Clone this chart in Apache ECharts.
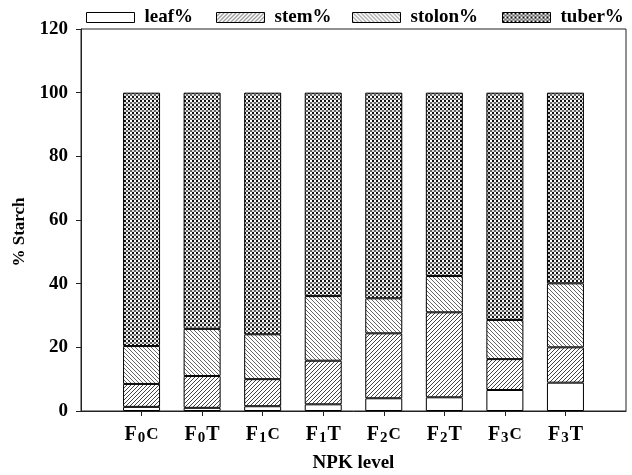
<!DOCTYPE html>
<html><head><meta charset="utf-8">
<script src="https://cdn.jsdelivr.net/npm/echarts@6/dist/echarts.min.js"></script>
<style>html,body{margin:0;padding:0;background:#fff}#c{width:632px;height:475px}</style>
</head><body><div id="c"></div>
<script>
// categories (padded with empty slots at both ends)
var categories = ['', 'F0C', 'F0T', 'F1C', 'F1T', 'F2C', 'F2T', 'F3C', 'F3T', ''];
var leaf   = [null, 1.3, 1.0, 1.5, 2.1, 4.0, 4.3, 6.6, 8.9, null];
var stem   = [null, 7.2, 10.0, 8.5, 13.7, 20.4, 26.7, 9.7, 11.1, null];
var stolon = [null, 11.9, 14.8, 14.1, 20.3, 11.0, 11.4, 12.3, 20.1, null];
var tuber  = [null, 79.6, 74.2, 75.9, 63.9, 64.6, 57.6, 71.4, 59.9, null];
var seriesNames = ['leaf%', 'stem%', 'stolon%', 'tuber%'];
var yTicks = [0, 20, 40, 60, 80, 100, 120];

function tile(size, draw) {
  var c = document.createElement('canvas');
  c.width = size; c.height = size;
  var g = c.getContext('2d');
  g.fillStyle = '#fff'; g.fillRect(0, 0, size, size);
  draw(g, size);
  return c;
}
var stemTile = tile(4, function (g, s) {
  g.strokeStyle = '#444'; g.lineWidth = 1;
  g.beginPath();
  g.moveTo(-1, s + 1); g.lineTo(s + 1, -1);
  g.moveTo(-1, 1); g.lineTo(1, -1);
  g.moveTo(s - 1, s + 1); g.lineTo(s + 1, s - 1);
  g.stroke();
});
var stolonTile = tile(4, function (g, s) {
  g.strokeStyle = '#666'; g.lineWidth = 1;
  g.beginPath();
  g.moveTo(-1, -1); g.lineTo(s + 1, s + 1);
  g.moveTo(s - 1, -1); g.lineTo(s + 1, 1);
  g.moveTo(-1, s - 1); g.lineTo(1, s + 1);
  g.stroke();
});
var tuberTile = tile(4, function (g, s) {
  g.fillStyle = '#d8d8d8'; g.fillRect(0, 0, 4, 4);
  g.fillStyle = '#111'; g.fillRect(0, 0, 2, 2);
  g.fillStyle = '#666'; g.fillRect(2, 2, 2, 2);
  g.fillStyle = '#fff'; g.fillRect(2, 0, 2, 2);
});
var fills = ['#ffffff',
  {image: stemTile, repeat: 'repeat'},
  {image: stolonTile, repeat: 'repeat'},
  {image: tuberTile, repeat: 'repeat'}];
var datas = [leaf, stem, stolon, tuber];

var chart = echarts.init(document.getElementById('c'), null, {renderer: 'canvas'});
var font = '"Liberation Serif", "Times New Roman", serif';
var legendLefts = [86, 216, 352, 502];
var legends = seriesNames.map(function (n, i) {
  return {
    data: [n], left: legendLefts[i], top: 8, padding: 0, itemWidth: 48, itemHeight: 10,
    icon: 'rect',
    itemStyle: {borderColor: '#000', borderWidth: 1},
    textStyle: {fontFamily: font, fontWeight: 'bold', fontSize: 19, color: '#000', padding: [0, 0, 0, 5]}
  };
});

var series = seriesNames.map(function (n, i) {
  return {
    name: n, type: 'bar', stack: 'total', barWidth: 37,
    data: datas[i],
    itemStyle: {color: fills[i], borderColor: '#000', borderWidth: 1},
    emphasis: {disabled: true}, animation: false
  };
});

chart.setOption({
  animation: false,
  backgroundColor: '#fff',
  legend: legends,
  grid: {left: 81, right: 6, top: 29, bottom: 64, outerBoundsMode: 'none', containLabel: false,
    show: true, borderColor: '#222', borderWidth: 1, backgroundColor: 'transparent'},
  xAxis: {
    type: 'category', data: categories, boundaryGap: false,
    axisLine: {lineStyle: {color: '#222', width: 1}},
    axisTick: {length: 5, lineStyle: {color: '#222'}, interval: function (idx, v) { return v !== ''; }},
    axisLabel: {
      margin: 13, interval: 0,
      formatter: function (v) {
        if (!v) return '';
        return '{a|F}{s|' + v.charAt(1) + '}{' + (v.charAt(2) === 'C' ? 'c' : 'a') + '|' + v.charAt(2) + '}';
      },
      rich: {
        a: {fontFamily: font, fontWeight: 'bold', fontSize: 20, color: '#000', lineHeight: 22, verticalAlign: 'middle'},
        c: {fontFamily: font, fontWeight: 'bold', fontSize: 17, color: '#000', lineHeight: 22, verticalAlign: 'middle'},
        s: {fontFamily: font, fontWeight: 'bold', fontSize: 15, color: '#000', lineHeight: 14, verticalAlign: 'bottom', padding: [6, 1, 0, 1]}
      }
    },
    name: 'NPK level', nameLocation: 'middle', nameGap: 43,
    nameTextStyle: {fontFamily: font, fontWeight: 'bold', fontSize: 19, color: '#000'}
  },
  yAxis: {
    type: 'value', min: 0, max: 120, interval: 20,
    splitLine: {show: false},
    axisLine: {show: true, lineStyle: {color: '#222', width: 1}},
    axisTick: {show: true, length: 5, lineStyle: {color: '#222'}},
    axisLabel: {margin: 13, fontFamily: font, fontWeight: 'bold', fontSize: 19, color: '#000',
      formatter: function (v) { return yTicks.indexOf(v) >= 0 ? String(v) : ''; }},
    name: '% Starch', nameLocation: 'middle', nameGap: 52,
    nameTextStyle: {fontFamily: font, fontWeight: 'bold', fontSize: 17, color: '#000', padding: [0, 24, 0, 0]}
  },
  series: series
});
</script></body></html>
